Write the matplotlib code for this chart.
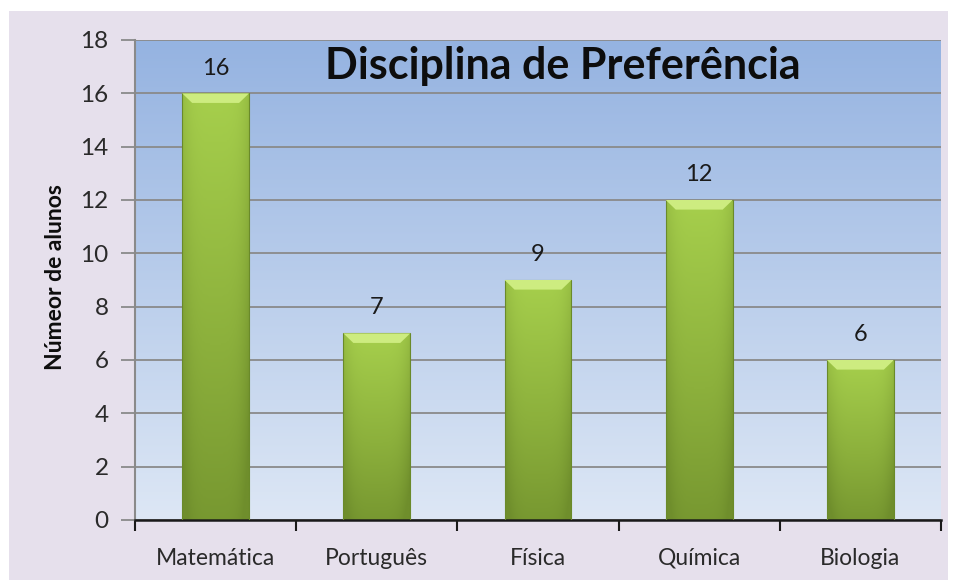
import numpy as np
import matplotlib
matplotlib.use("Agg")
import matplotlib.pyplot as plt
from matplotlib.patches import Rectangle, Polygon
from matplotlib.colors import LinearSegmentedColormap

categories = ["Matemática", "Português", "Física", "Química", "Biologia"]
values = [16, 7, 9, 12, 6]
yticks = [0, 2, 4, 6, 8, 10, 12, 14, 16, 18]
title = "Disciplina de Preferência"
ylabel = "Númeor de alunos"

plt.rcParams['font.family'] = ['Lato', 'DejaVu Sans']

W, H = 954, 580
fig = plt.figure(figsize=(W / 100, H / 100), dpi=100)
fig.patch.set_facecolor("white")
fig.patches.append(Rectangle((9 / W, 0), (948 - 9) / W, (580 - 11) / H,
                             transform=fig.transFigure, facecolor="#e6e0ec",
                             edgecolor="none", zorder=-10))

ax = fig.add_axes([135 / W, (580 - 520) / H, 806 / W, 480 / H])
ax.set_facecolor("none")
ax.set_xlim(-0.5, len(categories) - 0.5)
ax.set_ylim(0, 18)

# background gradient
bg = LinearSegmentedColormap.from_list("bg", ["#dde7f5", "#95b3e1"])
grad = np.linspace(0, 1, 256).reshape(-1, 1)
ax.imshow(grad, cmap=bg, aspect="auto", origin="lower",
          extent=[-0.5, len(categories) - 0.5, 0, 18], zorder=0)

ax.set_yticks(yticks)
ax.yaxis.grid(True, color="#8a8a8a", linewidth=1.3, zorder=1)
ax.set_axisbelow(True)

# bars with gradient fill
bw = 0.415
gcm = LinearSegmentedColormap.from_list("g", ["#6f8e2c", "#8cb03c", "#a6cf4c"])
for i, v in enumerate(values):
    x0 = i - bw / 2
    rect = Rectangle((x0, 0), bw, v, facecolor="none", edgecolor="none", zorder=2)
    ax.add_patch(rect)
    yy = np.linspace(0, 1, 200).reshape(-1, 1)
    xx = np.linspace(-1, 1, 60).reshape(1, -1)
    shade = 0.15 + 0.85 * yy - 0.3 * np.abs(xx) ** 4
    im = ax.imshow(np.clip(shade, 0, 1), cmap=gcm, vmin=0, vmax=1, aspect="auto",
                   origin="lower", extent=[x0, x0 + bw, 0, v], zorder=2)
    im.set_clip_path(rect)
    ax.add_patch(Rectangle((x0, 0), bw, v, facecolor="none",
                           edgecolor="#6a8a2a", linewidth=0.8, zorder=3))
    dx, dy = 0.062, 0.36
    ax.add_patch(Polygon([(x0, v), (x0 + bw, v), (x0 + bw - dx, v - dy), (x0 + dx, v - dy)],
                         closed=True, facecolor="#cdec80", edgecolor="none", zorder=3))
    ax.text(i, v + 0.95, str(v), ha="center", va="center", fontsize=17,
            color="#1a1a1a", zorder=4)

ax.set_xticks(np.arange(len(categories) + 1) - 0.5)
ax.set_xticklabels([])
ax.set_xticks(np.arange(len(categories)), minor=True)
ax.set_xticklabels(categories, minor=True, fontsize=16.5, color="#2a2a2a")
ax.tick_params(axis="x", which="major", length=8, width=1.5, color="#1a1a1a", direction="out")
ax.tick_params(axis="x", which="minor", length=0, pad=20)
ax.tick_params(axis="y", length=10, width=1.3, color="#8a8a8a", labelsize=17.5,
               labelcolor="#2a2a2a", pad=9)

for s in ["top", "right"]:
    ax.spines[s].set_visible(False)
ax.spines["left"].set_color("#8a8a8a")
ax.spines["left"].set_linewidth(1.5)
ax.spines["bottom"].set_color("#1a1a1a")
ax.spines["bottom"].set_linewidth(1.8)

ax.text(0.531, 0.945, title, transform=ax.transAxes, ha="center", va="center",
        fontsize=31, fontweight="bold", color="#0d0d0d", zorder=5)

fig.text(56 / W, 1 - 277 / H, ylabel, rotation=90, ha="center", va="center",
         fontsize=16.5, fontweight="bold", color="#0d0d0d")

fig.savefig("out.png", dpi=100, facecolor=fig.get_facecolor())
